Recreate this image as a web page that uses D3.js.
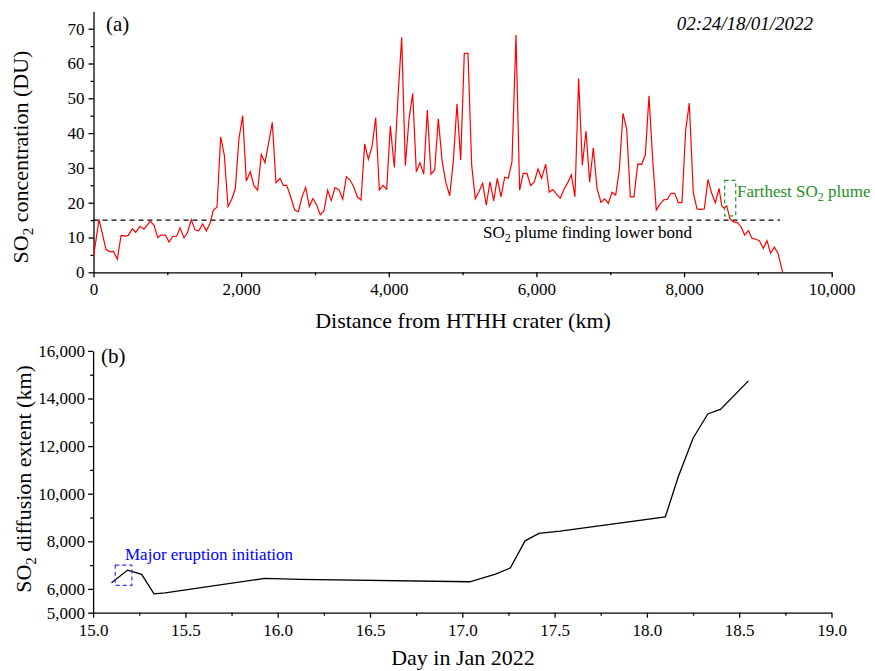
<!DOCTYPE html>
<html>
<head>
<meta charset="utf-8">
<script src="https://cdn.jsdelivr.net/npm/d3@7"></script>
<style>
  body { margin: 0; background: #fff; }
  svg text { font-family: "Liberation Serif", "Times New Roman", serif; }
  .axis path, .axis line { stroke: #000; stroke-width: 1.3; }
  .axis text { font-size: 17px; fill: #000; }
</style>
</head>
<body>
<div id="chart"></div>
<script>
// panel (a): SO2 concentration along the distance from the crater
var distKm = [0, 75, 169, 224, 269, 323, 373, 427, 472, 526, 572, 630, 684, 770, 820, 870, 914, 973, 1023, 1073,
  1127, 1172, 1226, 1271, 1325, 1375, 1425, 1479, 1528, 1578, 1623, 1673, 1723, 1772, 1822, 1872, 1921, 1971, 2021, 2070,
  2124, 2174, 2224, 2273, 2323, 2373, 2422, 2472, 2526, 2571, 2617, 2671, 2725, 2775, 2824, 2874, 2923, 2973, 3024, 3072,
  3122, 3172, 3221, 3271, 3326, 3376, 3425, 3475, 3525, 3574, 3624, 3674, 3723, 3773, 3823, 3872, 3922, 3972, 4021, 4075,
  4125, 4175, 4224, 4274, 4324, 4373, 4423, 4473, 4522, 4572, 4622, 4671, 4721, 4771, 4825, 4874, 4924, 4974, 5023, 5073,
  5123, 5172, 5222, 5272, 5321, 5371, 5421, 5470, 5520, 5570, 5619, 5669, 5723, 5773, 5822, 5872, 5922, 5971, 6021, 6071,
  6125, 6174, 6224, 6274, 6323, 6373, 6423, 6473, 6522, 6572, 6622, 6672, 6721, 6771, 6821, 6875, 6925, 6974, 7024, 7074,
  7123, 7173, 7223, 7272, 7322, 7372, 7426, 7475, 7525, 7575, 7624, 7674, 7724, 7773, 7823, 7873, 7922, 7972, 8022, 8071,
  8125, 8175, 8225, 8274, 8324, 8374, 8424, 8474, 8510, 8541, 8578, 8623, 8668, 8722, 8772, 8821, 8871, 8921, 8970, 9020,
  9073, 9123, 9173, 9223, 9272, 9336];
var so2DU = [4.5, 15.2, 6.6, 5.9, 6.0, 3.8, 10.6, 10.4, 10.6, 12.5, 11.5, 13.2, 12.4, 14.7, 13.5, 10.0, 10.7, 10.7, 8.7, 10.3,
  10.4, 12.8, 9.9, 11.3, 15.1, 12.2, 11.9, 13.9, 11.9, 14.0, 17.9, 18.7, 38.9, 33.7, 18.9, 21.0, 24.0, 38.5, 45.0, 26.2,
  28.9, 24.8, 23.6, 33.9, 31.5, 37.2, 43.1, 25.7, 27.0, 25.0, 25.0, 21.7, 17.9, 17.4, 21.6, 24.4, 18.9, 21.2, 19.3, 16.5,
  17.7, 23.6, 20.6, 24.3, 23.7, 21.0, 27.5, 26.5, 24.6, 21.7, 20.8, 36.9, 32.5, 36.1, 44.4, 23.6, 25.0, 23.9, 42.0, 30.1,
  50.5, 67.5, 30.6, 44.0, 51.4, 28.9, 31.5, 28.2, 46.6, 28.2, 29.4, 44.1, 32.3, 26.0, 22.0, 31.8, 48.4, 32.3, 62.9, 62.9,
  30.8, 21.1, 23.2, 25.6, 19.3, 26.0, 20.5, 27.0, 21.7, 27.3, 27.0, 31.8, 68.2, 23.6, 28.4, 28.4, 24.9, 26.0, 29.7, 27.0,
  31.1, 23.0, 23.8, 22.4, 21.3, 23.8, 25.7, 28.0, 21.7, 55.7, 30.8, 40.6, 25.9, 35.8, 24.1, 20.1, 21.1, 19.8, 23.0, 22.2,
  29.4, 45.7, 41.1, 21.7, 21.7, 31.1, 31.0, 33.7, 50.7, 32.3, 17.9, 19.6, 20.8, 21.0, 22.7, 22.7, 20.0, 20.0, 40.9, 48.6,
  22.9, 18.2, 18.1, 18.2, 26.7, 22.7, 20.0, 24.1, 19.1, 18.4, 19.1, 15.3, 14.5, 14.3, 13.1, 10.7, 12.0, 9.8, 9.5, 9.1,
  6.9, 9.1, 5.5, 7.2, 5.5, 0];
var lowerBond = 15;          // SO2 plume finding lower bond (DU)
var lowerBondEnd = 9300;     // dashed line ends here (km)
var xTicksA = [0, 2000, 4000, 6000, 8000, 10000];
var yTicksA = [0, 10, 20, 30, 40, 50, 60, 70];

// panel (b): SO2 diffusion extent vs day
var dayJan = [15.10, 15.187, 15.263, 15.33, 15.39, 15.93, 16.12, 17.04, 17.18, 17.26, 17.34, 17.415, 17.53, 18.10, 18.17, 18.25, 18.33, 18.40, 18.55];
var extentKm = [6260, 6790, 6610, 5790, 5830, 6440, 6400, 6300, 6620, 6880, 8020, 8330, 8430, 9030, 10710, 12330, 13350, 13550, 14740];
var xTicksB = [15.0, 15.5, 16.0, 16.5, 17.0, 17.5, 18.0, 18.5, 19.0];
var yTicksB = [5000, 6000, 8000, 10000, 12000, 14000, 16000];

var W = 875, H = 671;
var svg = d3.select("#chart").append("svg").attr("width", W).attr("height", H);
var fmt = d3.format(",");

// ---------- panel (a)
var xA = d3.scaleLinear().domain([0, 10000]).range([93.5, 831.7]);
var yA = d3.scaleLinear().domain([0, 75]).range([272.3, 11.3]);

var gA = svg.append("g");

// minor ticks
gA.append("g").attr("class", "axis").attr("transform", "translate(0," + yA(0) + ")")
  .call(d3.axisBottom(xA).tickValues(d3.range(1000, 10000, 2000)).tickSize(3).tickFormat(""))
  .select(".domain").remove();
gA.append("g").attr("class", "axis").attr("transform", "translate(" + xA(0) + ",0)")
  .call(d3.axisLeft(yA).tickValues(d3.range(5, 75, 10)).tickSize(3).tickFormat(""))
  .select(".domain").remove();

gA.append("g").attr("class", "axis").attr("transform", "translate(0," + yA(0) + ")")
  .call(d3.axisBottom(xA).tickValues(xTicksA).tickSize(5).tickSizeOuter(0).tickPadding(6).tickFormat(fmt));
gA.append("g").attr("class", "axis").attr("transform", "translate(" + xA(0) + ",0)")
  .call(d3.axisLeft(yA).tickValues(yTicksA).tickSize(5).tickSizeOuter(0).tickPadding(4));

gA.append("line")
  .attr("x1", xA(0)).attr("x2", xA(lowerBondEnd))
  .attr("y1", yA(lowerBond)).attr("y2", yA(lowerBond))
  .attr("stroke", "#000").attr("stroke-width", 1.2).attr("stroke-dasharray", "5,4");

var ptsA = distKm.map(function(d, i) { return { d: d, v: so2DU[i] }; });
gA.append("path").datum(ptsA)
  .attr("fill", "none").attr("stroke", "#ff0000").attr("stroke-width", 1.2)
  .attr("d", d3.line().x(function(p) { return xA(p.d); }).y(function(p) { return yA(p.v); }));

// annotations
gA.append("text").attr("x", 106).attr("y", 31).style("font-size", "21px").text("(a)");
gA.append("text").attr("x", 813).attr("y", 30).attr("text-anchor", "end")
  .style("font-size", "19px").style("font-style", "italic").text("02:24/18/01/2022");

var t1 = gA.append("text").attr("x", 483).attr("y", 238).style("font-size", "17px");
t1.append("tspan").text("SO");
t1.append("tspan").attr("dy", 4).style("font-size", "12px").text("2");
t1.append("tspan").attr("dy", -4).text(" plume finding lower bond");

gA.append("rect")
  .attr("x", xA(8550)).attr("y", yA(26.4))
  .attr("width", xA(8700) - xA(8550)).attr("height", yA(16.2) - yA(26.4))
  .attr("fill", "none").attr("stroke", "#2a9a2a").attr("stroke-width", 1.2).attr("stroke-dasharray", "4,3");
var t2 = gA.append("text").attr("x", 737).attr("y", 197).style("font-size", "17px").attr("fill", "#1f8f1f");
t2.append("tspan").text("Farthest SO");
t2.append("tspan").attr("dy", 4).style("font-size", "12px").text("2");
t2.append("tspan").attr("dy", -4).text(" plume");

var tyA = gA.append("text").attr("transform", "translate(28,157) rotate(-90)")
  .attr("text-anchor", "middle").style("font-size", "22px");
tyA.append("tspan").text("SO");
tyA.append("tspan").attr("dy", 5).style("font-size", "15px").text("2");
tyA.append("tspan").attr("dy", -5).text(" concentration (DU)");

gA.append("text").attr("x", 463).attr("y", 328).attr("text-anchor", "middle")
  .style("font-size", "22px").text("Distance from HTHH crater (km)");

// ---------- panel (b)
var xB = d3.scaleLinear().domain([15, 19]).range([93.1, 831.5]);
var yB = d3.scaleLinear().domain([5000, 16000]).range([612.7, 350.9]);

var gB = svg.append("g");

gB.append("g").attr("class", "axis").attr("transform", "translate(0," + yB(5000) + ")")
  .call(d3.axisBottom(xB).tickValues(d3.range(15.25, 19, 0.5)).tickSize(3).tickFormat(""))
  .select(".domain").remove();
gB.append("g").attr("class", "axis").attr("transform", "translate(" + xB(15) + ",0)")
  .call(d3.axisLeft(yB).tickValues(d3.range(7000, 16000, 2000)).tickSize(3).tickFormat(""))
  .select(".domain").remove();

gB.append("g").attr("class", "axis").attr("transform", "translate(0," + yB(5000) + ")")
  .call(d3.axisBottom(xB).tickValues(xTicksB).tickSize(5).tickSizeOuter(0).tickPadding(6).tickFormat(d3.format(".1f")));
gB.append("g").attr("class", "axis").attr("transform", "translate(" + xB(15) + ",0)")
  .call(d3.axisLeft(yB).tickValues(yTicksB).tickSize(5).tickSizeOuter(0).tickPadding(3).tickFormat(fmt));

var ptsB = dayJan.map(function(d, i) { return { d: d, v: extentKm[i] }; });
gB.append("path").datum(ptsB)
  .attr("fill", "none").attr("stroke", "#000").attr("stroke-width", 1.3)
  .attr("d", d3.line().x(function(p) { return xB(p.d); }).y(function(p) { return yB(p.v); }));

gB.append("text").attr("x", 101).attr("y", 363).style("font-size", "21px").text("(b)");

gB.append("rect")
  .attr("x", xB(15.12)).attr("y", yB(7000))
  .attr("width", xB(15.21) - xB(15.12)).attr("height", yB(6150) - yB(7000))
  .attr("fill", "none").attr("stroke", "#3333ff").attr("stroke-width", 1.2).attr("stroke-dasharray", "4,3");
gB.append("text").attr("x", 125).attr("y", 560).style("font-size", "17px").attr("fill", "#0000ff")
  .text("Major eruption initiation");

var tyB = gB.append("text").attr("transform", "translate(31,479) rotate(-90)")
  .attr("text-anchor", "middle").style("font-size", "22px");
tyB.append("tspan").text("SO");
tyB.append("tspan").attr("dy", 5).style("font-size", "15px").text("2");
tyB.append("tspan").attr("dy", -5).text(" diffusion extent (km)");

gB.append("text").attr("x", 463).attr("y", 665).attr("text-anchor", "middle")
  .style("font-size", "22px").text("Day in Jan 2022");
</script>
</body>
</html>
